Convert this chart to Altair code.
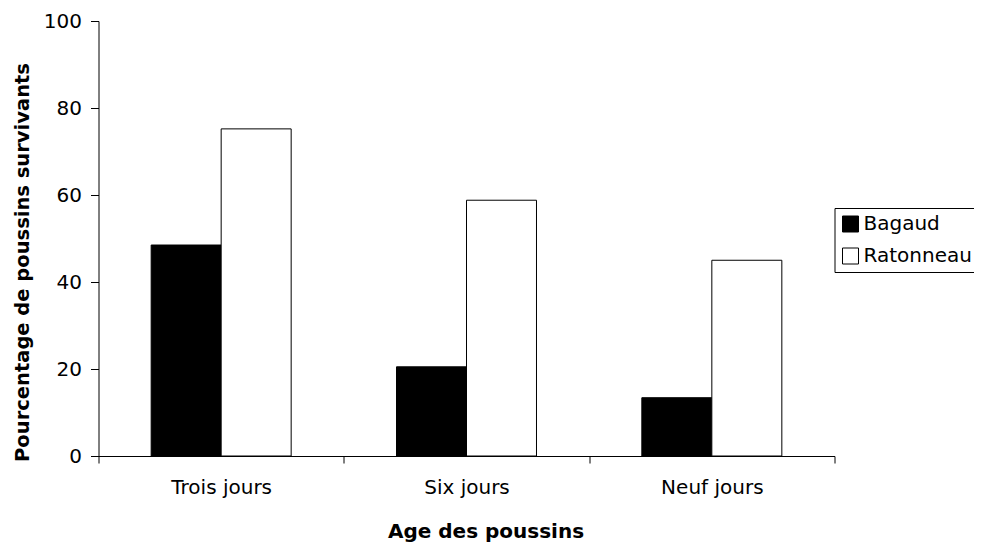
import altair as alt
import pandas as pd

ages = ["Trois jours", "Six jours", "Neuf jours"]
sites = ["Bagaud", "Ratonneau"]
bagaud = [48.5, 20.5, 13.4]
ratonneau = [75.2, 58.8, 45.0]
y_ticks = [0, 20, 40, 60, 80, 100]

rows = []
for i, a in enumerate(ages):
    rows.append({"age": a, "site": sites[0], "pct": bagaud[i]})
    rows.append({"age": a, "site": sites[1], "pct": ratonneau[i]})
df = pd.DataFrame(rows)

FONT = "DejaVu Sans"

chart = (
    alt.Chart(df)
    .mark_bar(stroke="black", strokeWidth=1)
    .encode(
        x=alt.X(
            "age:N",
            sort=ages,
            scale=alt.Scale(paddingInner=0, paddingOuter=0),
            axis=alt.Axis(
                title="Age des poussins",
                labelAngle=0,
                tickBand="extent",
                tickSize=7,
                labelPadding=14,
                labelFont=FONT,
                labelFontSize=20,
                labelColor="black",
                titleFont=FONT,
                titleFontSize=20,
                titleFontWeight="bold",
                titleColor="black",
                titleBaseline="alphabetic",
                titleAlign="center",
                titleX=387,
                titleY=81,
                domainColor="black",
                tickColor="black",
                grid=False,
            ),
        ),
        xOffset=alt.XOffset(
            "site:N", sort=sites, scale=alt.Scale(paddingInner=0, paddingOuter=0.7524)
        ),
        y=alt.Y(
            "pct:Q",
            scale=alt.Scale(domain=[0, 100], nice=False),
            axis=alt.Axis(
                values=y_ticks,
                title="Pourcentage de poussins survivants",
                tickSize=8,
                labelPadding=9,
                labelFont=FONT,
                labelFontSize=20,
                labelColor="black",
                titleFont=FONT,
                titleFontSize=19.5,
                titleFontWeight="bold",
                titleColor="black",
                titleAngle=270,
                titleAlign="center",
                titleBaseline="alphabetic",
                titleX=-70,
                titleY=241,
                domainColor="black",
                tickColor="black",
                grid=False,
            ),
        ),
        fill=alt.Fill(
            "site:N",
            sort=sites,
            scale=alt.Scale(domain=sites, range=["black", "white"]),
            legend=alt.Legend(
                title=None,
                orient="none",
                legendX=736,
                legendY=187,
                strokeColor="black",
                padding=6,
                rowPadding=12,
                symbolType="square",
                symbolSize=256,
                symbolStrokeColor="black",
                symbolStrokeWidth=1,
                labelFont=FONT,
                labelFontSize=20,
                labelColor="black",
                labelOffset=3,
            ),
        ),
    )
    .properties(
        width=736,
        height=435,
        padding={"left": 90.5, "top": 13, "right": 139.5, "bottom": 86},
        autosize=alt.AutoSizeParams(type="none"),
    )
    .configure(background="white")
    .configure_view(stroke="transparent", strokeWidth=0)
)

chart.save("out.html", embed_options={"renderer": "svg", "actions": False})
